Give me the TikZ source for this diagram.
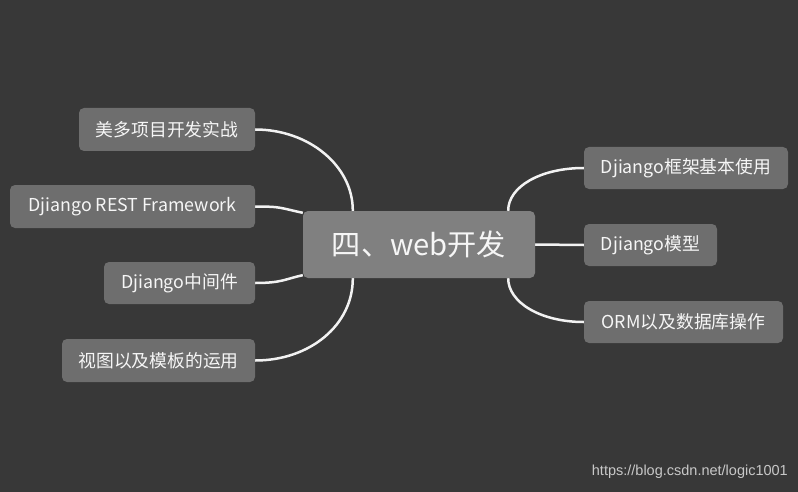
\documentclass[tikz,border=0pt]{standalone}
\usepackage{fontspec}
\setmainfont{Noto Sans CJK SC}
\newfontfamily\wmfont{Liberation Sans}
\definecolor{bgc}{HTML}{383838}
\definecolor{childc}{HTML}{6E6E6E}
\definecolor{centerc}{HTML}{808080}
\definecolor{txtc}{HTML}{F6F6F6}
\definecolor{wmc}{HTML}{C8C8C8}
\pgfdeclarelayer{bglayer}
\pgfdeclarelayer{edgelayer}
\pgfsetlayers{bglayer,edgelayer,main}
\tikzset{
  child/.style={fill=childc, rounded corners=5pt, text=txtc, inner sep=0pt, font=\fontsize{17.8}{20}\selectfont},
  centre/.style={fill=centerc, rounded corners=5pt, text=txtc, inner sep=0pt, font=\fontsize{29.2}{33}\selectfont},
  conn/.style={draw=white!95!black, line width=2.5pt}
}
\begin{document}
\begin{tikzpicture}[x=1pt,y=-1pt]
\begin{pgfonlayer}{bglayer}
\fill[bgc] (0,0) rectangle (798,492);
\end{pgfonlayer}
\useasboundingbox (0,0) rectangle (798,492);
% centre
\node[centre, minimum width=232pt, minimum height=67pt] (c) at (419,244.5) {四、web开发};
% left
\node[child, minimum width=176pt, minimum height=43pt] (l1) at (167,129.5) {美多项目开发实战};
\node[child, minimum width=245pt, minimum height=43pt] (l2) at (132.5,206.5) {Djiango REST Framework};
\node[child, minimum width=151pt, minimum height=42pt] (l3) at (179.5,283) {Djiango中间件};
\node[child, minimum width=193pt, minimum height=43pt] (l4) at (158.5,360.5) {视图以及模板的运用};
% right
\node[child, minimum width=204pt, minimum height=42pt] (r1) at (686,168) {Djiango框架基本使用};
\node[child, minimum width=133pt, minimum height=42pt] (r2) at (650.5,245) {Djiango模型};
\node[child, minimum width=199pt, minimum height=42pt] (r3) at (683.5,322) {ORM以及数据库操作};
% watermark
\node[text=wmc, font=\wmfont\fontsize{14.5}{16}\selectfont, anchor=east, inner sep=0pt] (wm) at (788,472) {https://blog.csdn.net/logic1001};
% connectors
\coordinate (ctl) at ([xshift=50pt]c.north west);
\coordinate (cbl) at ([xshift=50pt]c.south west);
\coordinate (ctr) at ([xshift=-27pt]c.north east);
\coordinate (cbr) at ([xshift=-27pt]c.south east);
\coordinate (cl2) at ([yshift=-2pt]c.north west);
\coordinate (cl3) at ([yshift=3pt]c.south west);
\begin{pgfonlayer}{edgelayer}
\draw[conn] (l1.east) .. controls (309,129.5) and (353,166) .. (ctl);
\draw[conn] (l2.east) .. controls (282,206.5) and (280,208) .. (cl2);
\draw[conn] (l3.east) .. controls (282,283) and (285,279) .. (cl3);
\draw[conn] (l4.east) .. controls (310,360.5) and (353,325) .. (cbl);
\draw[conn] (ctr) .. controls (508,187) and (540,168) .. (r1.west);
\draw[conn] (c.east) -- (r2.west);
\draw[conn] (cbr) .. controls (508,302) and (540,322) .. (r3.west);
\end{pgfonlayer}
\end{tikzpicture}
\end{document}
